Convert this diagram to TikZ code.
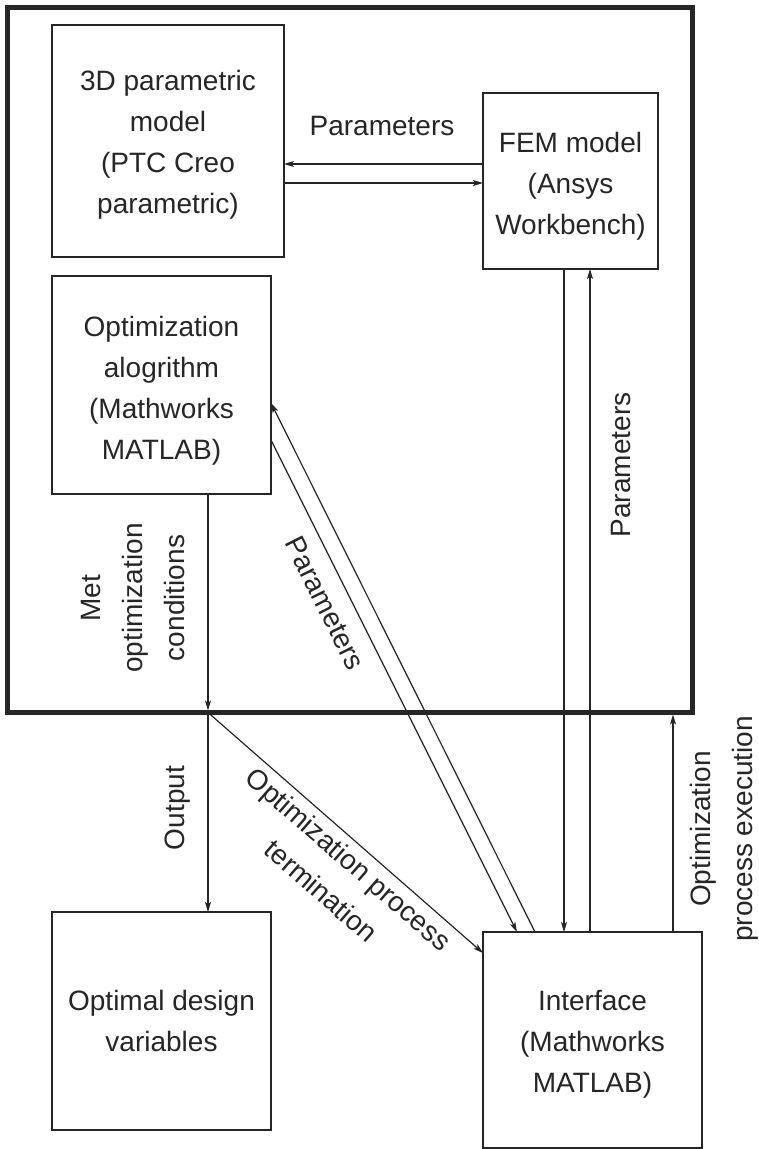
\documentclass[tikz,border=0pt]{standalone}
\usepackage{fontspec}
\setmainfont{Liberation Sans}
\usetikzlibrary{arrows.meta,calc}
\definecolor{ink}{RGB}{38,38,38}
\newcommand{\topgap}[1]{\rule{0pt}{#1}}
\begin{document}
\begin{tikzpicture}[x=1pt,y=-1pt,
  every node/.style={outer sep=0pt, inner sep=0pt, text=ink},
  box/.style={draw=ink, line width=1.2pt, align=center, font=\fontsize{28}{41}\selectfont},
  lbl/.style={align=center, font=\fontsize{28}{42}\selectfont},
  arr/.style={draw=ink, line width=1.2pt, -{Stealth[length=10pt,width=6pt,inset=2.5pt]}}]
\useasboundingbox (0,0) rectangle (759,1149);
\fill[white] (0,0) rectangle (759,1149);

% frame and boxes
\node[draw=ink, line width=4.2pt, minimum width=685pt, minimum height=705pt] (frame) at (350,360) {};
\node[box, minimum width=232pt, minimum height=232pt] (cad) at (168,141) {\topgap{28.5pt}3D parametric\\model\\(PTC Creo\\parametric)};
\node[box, minimum width=175pt, minimum height=176pt] (fem) at (570.5,181) {\topgap{30.5pt}FEM model\\(Ansys\\Workbench)};
\node[box, minimum width=219pt, minimum height=218pt] (opt) at (161.5,385) {\topgap{32.5pt}Optimization\\alogrithm\\(Mathworks\\MATLAB)};
\node[box, minimum width=219pt, minimum height=218pt] (res) at (161.5,1021) {Optimal design\\variables};
\node[box, minimum width=219pt, minimum height=216pt] (intf) at (592.5,1040) {\topgap{28.5pt}Interface\\(Mathworks\\MATLAB)};

% connection points
\coordinate (f1) at ([yshift=17pt]fem.west);
\coordinate (f2) at ([yshift=-2pt]fem.west);
\coordinate (v1) at ([xshift=-6.5pt]fem.south);
\coordinate (v2) at ([xshift=19.5pt]fem.south);
\coordinate (d1) at ([yshift=-18pt]opt.east);
\coordinate (d2) at ([yshift=-55pt]opt.east);
\coordinate (t1) at ([xshift=-57.5pt]intf.north);
\coordinate (t2) at ([xshift=-75.5pt]intf.north);
\coordinate (o1) at ([xshift=46.5pt]opt.south);
\coordinate (j) at (o1 |- frame.south);
\coordinate (i1) at ([yshift=87pt]intf.west);
\coordinate (x1) at ([xshift=80.5pt]intf.north);

% connectors
\draw[arr] (f1) -- (f1 -| cad.east);
\draw[arr] (f2 -| cad.east) -- (f2);
\draw[arr] (v1) -- (v1 |- intf.north);
\draw[arr] (v2 |- intf.north) -- (v2);
\draw[arr] (t1) -- (d1);
\draw[arr] (d2) -- (t2);
\draw[arr, shorten >=2pt] (o1) -- (j);
\draw[arr] (j) -- (j |- res.north);
\draw[arr] (j) -- (i1);
\draw[arr, shorten >=2pt] (x1) -- (x1 |- frame.south);

% labels
\node[lbl, anchor=base] (lp1) at (382,135) {Parameters};
\node[lbl, rotate=90] (lp2) at (621,465) {Parameters};
\node[lbl, rotate=-63.4] (lp3) at (325,603) {Parameters};
\node[lbl, rotate=90] (lmet) at (133,598) {Met\\optimization\\conditions};
\node[lbl, rotate=90] (lout) at (178,808) {Output};
\node[lbl, rotate=-41.1] (lterm) at (335,875) {Optimization process\\termination};
\node[lbl, rotate=90] (lexec) at (724,829) {Optimization\\process execution};
\end{tikzpicture}
\end{document}
